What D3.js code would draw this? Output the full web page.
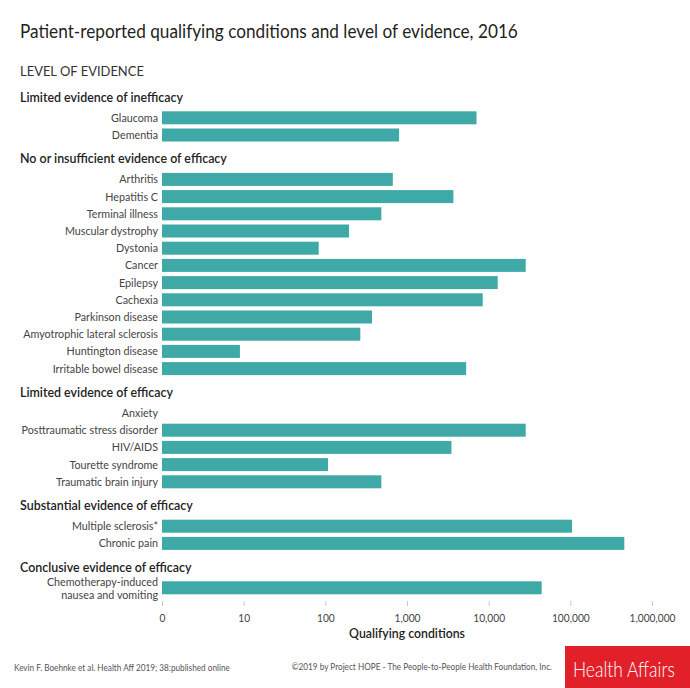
<!DOCTYPE html>
<html><head><meta charset="utf-8">
<script src="https://cdn.jsdelivr.net/npm/d3@7"></script>
<style>body{margin:0;background:#fff} svg{display:block}</style>
</head><body>
<svg id="c" width="690" height="688"></svg>
<script>
// ---------------- data ----------------
const sections = [
  "Limited evidence of inefficacy",
  "No or insufficient evidence of efficacy",
  "Limited evidence of efficacy",
  "Substantial evidence of efficacy",
  "Conclusive evidence of efficacy"
];
const conditions = [
  "Glaucoma", "Dementia",
  "Arthritis", "Hepatitis C", "Terminal illness", "Muscular dystrophy", "Dystonia", "Cancer",
  "Epilepsy", "Cachexia", "Parkinson disease", "Amyotrophic lateral sclerosis", "Huntington disease",
  "Irritable bowel disease",
  "Anxiety", "Posttraumatic stress disorder", "HIV/AIDS", "Tourette syndrome", "Traumatic brain injury",
  "Multiple sclerosis*", "Chronic pain",
  "Chemotherapy-induced\nnausea and vomiting"
];
const conditionSection = [0,0, 1,1,1,1,1,1,1,1,1,1,1,1, 2,2,2,2,2, 3,3, 4];
const counts = [
  7100, 800,
  670, 3700, 485, 195, 83, 28400, 12900, 8450, 373, 268, 9, 5300,
  0, 28400, 3500, 108, 485,
  105000, 458000,
  44600
];
const tickValues = [1, 10, 100, 1000, 10000, 100000, 1000000];
const tickLabels = ["0", "10", "100", "1,000", "10,000", "100,000", "1,000,000"];
const titleText = "Patient-reported qualifying conditions and level of evidence, 2016";
const subtitleText = "LEVEL OF EVIDENCE";
const axisTitle = "Qualifying conditions";
const sourceText = "Kevin F. Boehnke et al. Health Aff 2019; 38:published online";
const copyrightText = "\u00A92019 by Project HOPE - The People-to-People Health Foundation, Inc.";
const brandText = "Health Affairs";

// ---------------- drawing ----------------
const FONT = "Lato, 'Open Sans', sans-serif";
const BAR = "#3fa9a8";
const svg = d3.select("#c");

function measure(str, size, weight) {
  const t = svg.append("text").attr("font-family", FONT).attr("font-size", size)
    .attr("font-weight", weight).text(str);
  const w = t.node().getComputedTextLength();
  t.remove();
  return w;
}
function txt(parent, str, x, y, o) {
  return parent.append("text")
    .attr("transform", `translate(${x},${y}) scale(${o.k || 1},1)`)
    .attr("font-family", FONT).attr("font-size", o.size).attr("font-weight", o.weight || 400)
    .attr("fill", o.fill || "#333").attr("text-anchor", o.anchor || "start")
    .text(str);
}

function draw() {
  const kTitle = 498 / measure(titleText, 19, 400);
  const kSub = 124 / measure(subtitleText, 13, 400);
  const kHead = 207 / measure(sections[1], 14, 600);
  const kLab = 135 / measure("Amyotrophic lateral sclerosis", 12, 400);
  const kTick = 46 / measure("1,000,000", 12, 400);
  const kAx = 116 / measure(axisTitle, 13, 600);
  const kFoot = 216 / measure(sourceText, 9.5, 400);
  const kBrand = 102 / measure(brandText, 22, 300);

  txt(svg, titleText, 20, 38, {size: 19, k: kTitle, fill: "#231f20"});
  txt(svg, subtitleText, 20, 76, {size: 13, k: kSub, fill: "#333"});

  const x = d3.scaleLog().domain([1, 1e6]).range([162, 652]);

  // vertical layout (cursor based)
  const rowPitch = 17.2, barH = 13, headToBar = 9.8, barToHead = 34.6;
  const rows = [];
  const heads = [];
  let y = 101.5;
  sections.forEach((s, si) => {
    heads.push({s, y});
    let top = y + headToBar;
    let last = top;
    conditions.forEach((c, i) => {
      if (conditionSection[i] !== si) return;
      rows.push({c, v: counts[i], top});
      last = top;
      top += rowPitch;
    });
    y = last + barToHead;
  });

  heads.forEach(h => txt(svg, h.s, 20, h.y, {size: 14, weight: 600, k: kHead, fill: "#222"}));

  svg.append("g").selectAll("rect").data(rows).join("rect")
    .attr("x", x(1))
    .attr("y", d => d.top)
    .attr("width", d => d.v > 0 ? x(d.v) - x(1) : 0)
    .attr("height", barH)
    .attr("fill", BAR);

  rows.forEach(r => {
    const lines = r.c.split("\n");
    if (lines.length === 1) {
      txt(svg, lines[0], 158, r.top + 10.5, {size: 12, k: kLab, anchor: "end", fill: "#444"});
    } else {
      lines.forEach((l, j) => txt(svg, l, 158, r.top + 4.5 + j * 13, {size: 11.5, k: kLab * 12 / 11.5, anchor: "end", fill: "#444"}));
    }
  });

  // axis
  const ax = svg.append("g").attr("transform", "translate(0,601)")
    .call(d3.axisBottom(x).tickValues(tickValues).tickFormat((d, i) => tickLabels[i]).tickSize(5).tickPadding(7));
  ax.select(".domain").remove();
  ax.selectAll(".tick line").attr("stroke", "#c8c8c8");
  ax.selectAll(".tick text").attr("font-family", FONT).attr("font-size", 12).attr("fill", "#444")
    .attr("transform", `scale(${kTick},1)`);

  txt(svg, axisTitle, 407, 638, {size: 13, weight: 600, k: kAx, anchor: "middle", fill: "#222"});

  // footer
  txt(svg, sourceText, 14, 671, {size: 9.5, k: kFoot, fill: "#555"});
  txt(svg, copyrightText, 552, 670, {size: 9.5, k: kFoot, anchor: "end", fill: "#555"});
  svg.append("rect").attr("x", 565).attr("y", 646).attr("width", 125).attr("height", 42).attr("fill", "#e2202a");
  txt(svg, brandText, 573, 677, {size: 22, weight: 300, k: kBrand, fill: "#fff"});
}

(document.fonts && document.fonts.ready ? document.fonts.ready : Promise.resolve()).then(draw);
</script>
</body></html>
